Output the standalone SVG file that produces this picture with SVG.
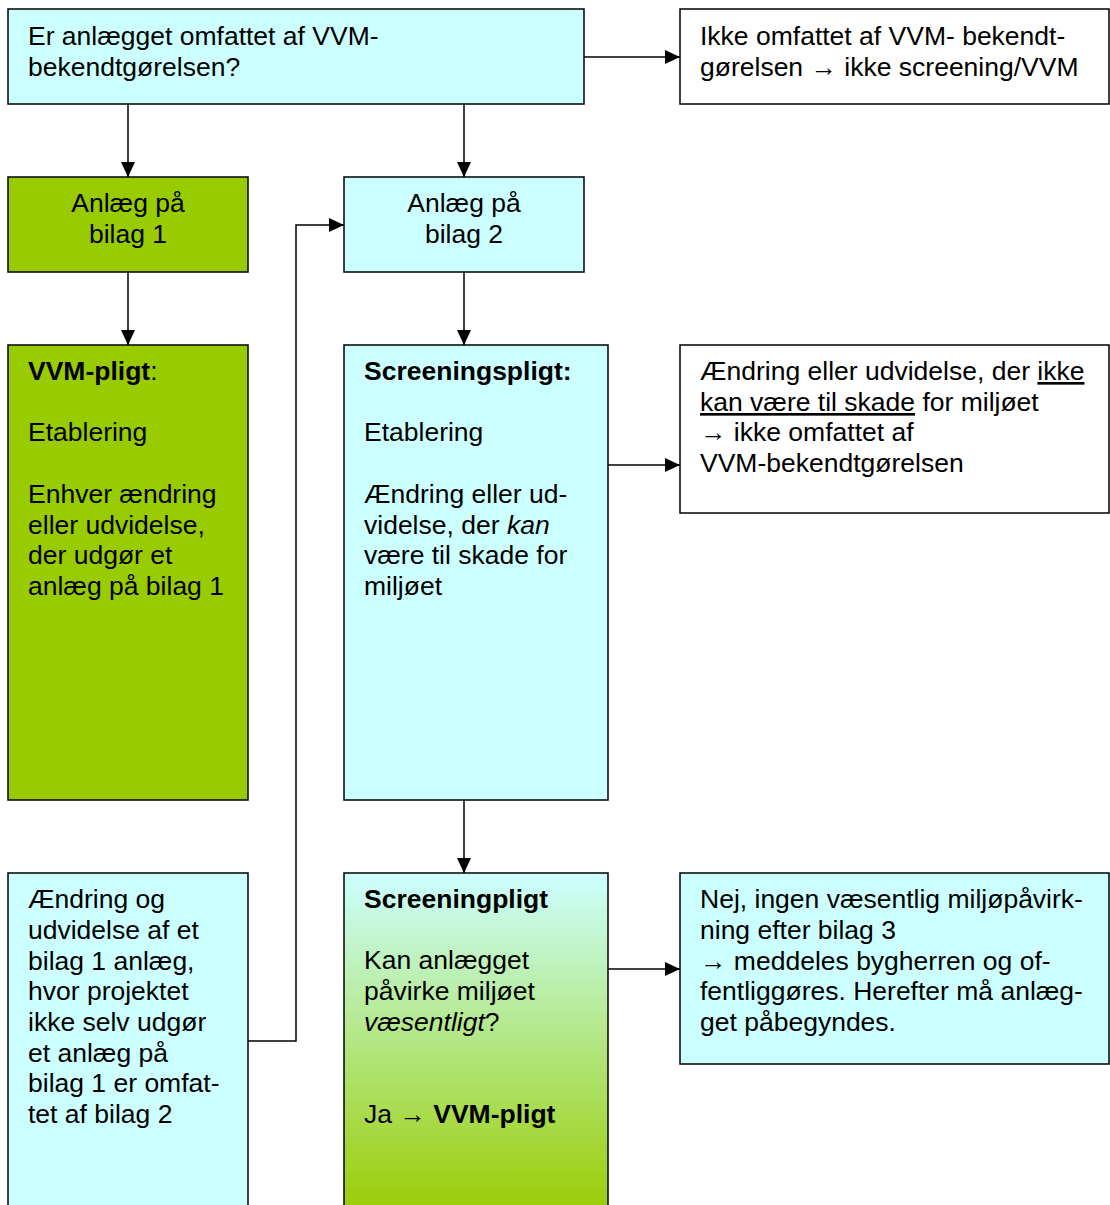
<svg xmlns="http://www.w3.org/2000/svg" width="1110" height="1205" viewBox="0 0 1110 1205">
<defs>
<marker id="arr" markerUnits="userSpaceOnUse" markerWidth="16" markerHeight="14" refX="15" refY="7" orient="auto">
<path d="M0,0 L15,7 L0,14 Z" fill="#000"/>
</marker>
<linearGradient id="grad" x1="0" y1="0" x2="0" y2="1">
<stop offset="0" stop-color="#CCFFFF"/>
<stop offset="1" stop-color="#99CC00"/>
</linearGradient>
<style>
.box{stroke:#000;stroke-width:1.5}
.cy{fill:#CCFFFF}
.gr{fill:#99CC00}
.wh{fill:#FFFFFF}
text{font-family:"Liberation Sans",Arial,sans-serif;font-size:26.5px;fill:#000}
.c{text-anchor:middle}
.b{font-weight:bold}
.i{font-style:italic}
.u{text-decoration:underline}
.ar{font-family:"Liberation Serif",serif;font-weight:normal}
.con path{fill:none;stroke:#000;stroke-width:1.5;marker-end:url(#arr)}
</style>
</defs>
<rect width="1110" height="1205" fill="#fff"/>

<g id="nodeA">
<rect class="box cy" x="8" y="9" width="576" height="95"/>
<text x="28" y="45">Er anlægget omfattet af VVM-</text>
<text x="28" y="76">bekendtgørelsen?</text>
</g>
<g id="nodeB">
<rect class="box wh" x="680" y="9" width="429" height="95"/>
<text x="700" y="45">Ikke omfattet af VVM- bekendt-</text>
<text x="700" y="76">gørelsen <tspan class="ar">→</tspan> ikke screening/VVM</text>
</g>
<g id="nodeC">
<rect class="box gr" x="8" y="177" width="240" height="95"/>
<text class="c" x="128" y="212">Anlæg på</text>
<text class="c" x="128" y="243">bilag 1</text>
</g>
<g id="nodeD">
<rect class="box cy" x="344" y="177" width="240" height="95"/>
<text class="c" x="464" y="212">Anlæg på</text>
<text class="c" x="464" y="243">bilag 2</text>
</g>
<g id="nodeE">
<rect class="box gr" x="8" y="345" width="240" height="455"/>
<text x="28" y="380"><tspan class="b">VVM-pligt</tspan>:</text>
<text x="28" y="441">Etablering</text>
<text x="28" y="503">Enhver ændring</text>
<text x="28" y="534">eller udvidelse,</text>
<text x="28" y="564">der udgør et</text>
<text x="28" y="595">anlæg på bilag 1</text>
</g>
<g id="nodeF">
<rect class="box cy" x="344" y="345" width="264" height="455"/>
<text x="364" y="380" class="b">Screeningspligt:</text>
<text x="364" y="441">Etablering</text>
<text x="364" y="503">Ændring eller ud-</text>
<text x="364" y="534">videlse, der <tspan class="i">kan</tspan></text>
<text x="364" y="564">være til skade for</text>
<text x="364" y="595">miljøet</text>
</g>
<g id="nodeG">
<rect class="box wh" x="680" y="345" width="429" height="168"/>
<text x="700" y="380">Ændring eller udvidelse, der <tspan class="u">ikke</tspan></text>
<text x="700" y="411"><tspan class="u">kan være til skade</tspan> for miljøet</text>
<text x="700" y="441"><tspan class="ar">→</tspan> ikke omfattet af</text>
<text x="700" y="472">VVM-bekendtgørelsen</text>
</g>
<g id="nodeH">
<rect class="box cy" x="8" y="873" width="240" height="345"/>
<text x="28" y="908">Ændring og</text>
<text x="28" y="939">udvidelse af et</text>
<text x="28" y="970">bilag 1 anlæg,</text>
<text x="28" y="1000">hvor projektet</text>
<text x="28" y="1031">ikke selv udgør</text>
<text x="28" y="1062">et anlæg på</text>
<text x="28" y="1092">bilag 1 er omfat-</text>
<text x="28" y="1123">tet af bilag 2</text>
</g>
<g id="nodeI">
<rect class="box" x="344" y="873" width="264" height="345" fill="url(#grad)"/>
<text x="364" y="908" class="b">Screeningpligt</text>
<text x="364" y="969">Kan anlægget</text>
<text x="364" y="1000">påvirke miljøet</text>
<text x="364" y="1031"><tspan class="i">væsentligt</tspan>?</text>
<text x="364" y="1123">Ja <tspan class="ar">→</tspan> <tspan class="b">VVM-pligt</tspan></text>
</g>
<g id="nodeJ">
<rect class="box cy" x="680" y="873" width="429" height="191"/>
<text x="700" y="908">Nej, ingen væsentlig miljøpåvirk-</text>
<text x="700" y="939">ning efter bilag 3</text>
<text x="700" y="970"><tspan class="ar">→</tspan> meddeles bygherren og of-</text>
<text x="700" y="1000">fentliggøres. Herefter må anlæg-</text>
<text x="700" y="1031">get påbegyndes.</text>
</g>

<g id="connectors" class="con">
<path d="M584,57 H680"/>
<path d="M128,104 V177"/>
<path d="M464,104 V177"/>
<path d="M128,272 V345"/>
<path d="M464,272 V345"/>
<path d="M608,465 H680"/>
<path d="M464,800 V873"/>
<path d="M608,969 H680"/>
<path d="M248,1041 H296 V225 H344"/>
</g>
</svg>
